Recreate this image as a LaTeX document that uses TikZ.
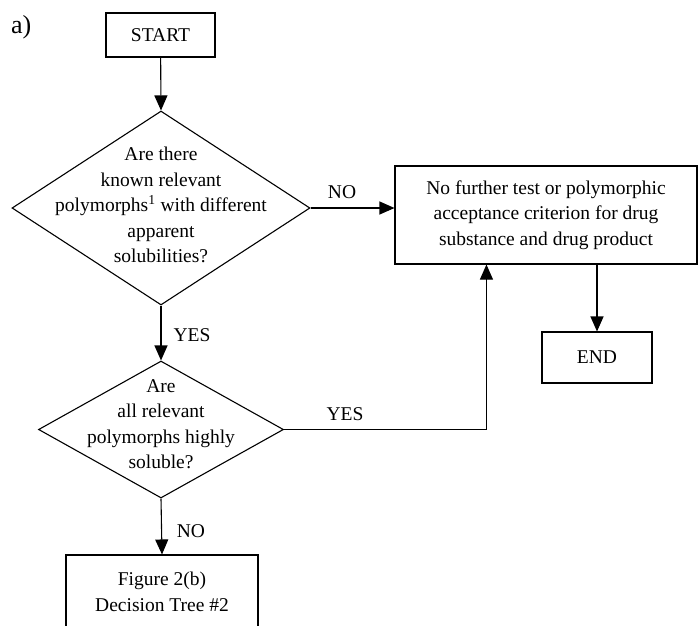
\documentclass[tikz,border=0pt]{standalone}
\usepackage{fontspec}
\setmainfont{Liberation Serif}
\usetikzlibrary{shapes.geometric, arrows.meta}
\tikzset{
  flow box/.style={
    draw,
    line width=1.1pt,
    align=center,
    inner sep=0pt,
  },
  decision/.style={
    draw,
    diamond,
    line width=1.1pt,
    inner sep=0pt,
  },
  flow line/.style={
    line width=1.1pt,
    -{Triangle[length=15pt,width=13pt]},
  },
}

\begin{document}
\begin{tikzpicture}[x=1pt, y=-1pt, font=\fontsize{19.5}{25.5}\selectfont]
      \useasboundingbox (0,0) rectangle (698,625);
      \node[anchor=base west, inner sep=0pt, font=\fontsize{26}{28}\selectfont] (tag) at (11,33) {a)};
      \node[flow box, minimum width=109pt, minimum height=44pt] (start) at (160.5,35) {START};
      \node[decision, minimum width=298pt, minimum height=194pt] (q1) at (161,208) {};
      \node[align=center] (q1 text) at (161,205) {Are there\\known relevant\\polymorphs\textsuperscript{1} with different\\apparent\\solubilities?};
      \node[flow box, minimum width=302pt, minimum height=98pt] (res) at (546,215) {No further test or polymorphic\\acceptance criterion for drug\\substance and drug product};
      \node[flow box, minimum width=110pt, minimum height=51pt] (end) at (597,357.5) {END};
      \node[decision, minimum width=245pt, minimum height=137pt] (q2) at (161,429.5) {};
      \node[align=center] (q2 text) at (161,424) {Are\\all relevant\\polymorphs highly\\soluble?};
      \node[flow box, minimum width=192pt, minimum height=74pt] (fig) at (162,592) {Figure 2(b)\\Decision Tree \#2};

      \node (no1) at (342,192) {NO};
      \node (yes1) at (192,335) {YES};
      \node (yes2) at (345,414) {YES};
      \node (no2) at (191,531) {NO};

      \draw[flow line] (start) -- (q1.north);
      \draw[flow line] (q1.east) -- (q1.east -| res.west);
      \draw[flow line] (q1.south) -- (q2.north);
      \draw[flow line] (q2.east) -| ([xshift=92pt]res.south west);
      \draw[flow line] (end.north |- res.south) -- (end.north);
      \draw[flow line] (q2.south) -- (fig.north);
    \end{tikzpicture}
\end{document}
